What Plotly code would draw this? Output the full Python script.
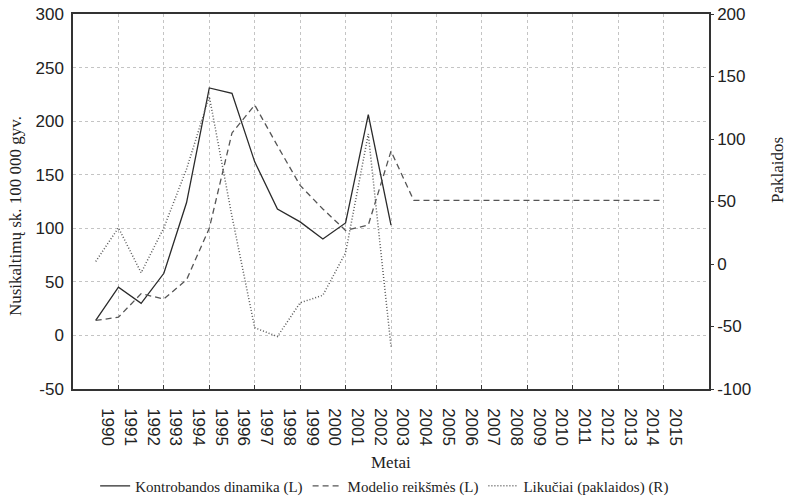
import plotly.graph_objects as go

# data
years = list(range(1990, 2016))
obs_years = list(range(1990, 2004))
contraband = [14, 45, 30, 58, 124, 231, 226, 162, 118, 106, 90, 105, 206, 103]
model = [14, 17, 39, 34, 52, 100, 189, 215, 177, 140, 118, 98, 103, 172,
         126, 126, 126, 126, 126, 126, 126, 126, 126, 126, 126, 126]
residuals = [2, 29, -7, 29, 76, 134, 38, -51, -58, -31, -25, 9, 104, -66]
left_ticks = [-50, 0, 50, 100, 150, 200, 250, 300]
right_ticks = [-100, -50, 0, 50, 100, 150, 200]

serif = "Liberation Serif"
sans = "Liberation Sans"

fig = go.Figure()
fig.add_trace(go.Scatter(x=obs_years, y=contraband, mode="lines",
                         name="Kontrobandos dinamika (L)",
                         line=dict(color="#2a2a2a", width=1.3)))
fig.add_trace(go.Scatter(x=years, y=model, mode="lines",
                         name="Modelio reikšmės (L)",
                         line=dict(color="#555555", width=1.3, dash="6px,4px")))
fig.add_trace(go.Scatter(x=obs_years, y=residuals, mode="lines",
                         name="Likučiai (paklaidos) (R)", xaxis="x2", yaxis="y2",
                         line=dict(color="#5a5a5a", width=1.5, dash="1px,2px")))

fig.update_layout(
    width=788, height=496,
    margin=dict(l=73, r=79, t=14, b=107),
    paper_bgcolor="white", plot_bgcolor="white",
    showlegend=True,
    legend=dict(orientation="h", x=0.49, xanchor="center",
                yref="container", y=0.02, yanchor="middle",
                font=dict(family=serif, size=15, color="#222"),
                itemwidth=30, tracegroupgap=0),
    # year labels
    xaxis=dict(range=[1989, 2017], tickvals=years, ticktext=[str(y) for y in years],
               tickangle=90, ticklabelshift=12, ticklabelstandoff=14,
               showgrid=False, zeroline=False, ticks="", automargin=False,
               showline=True, linecolor="#333", linewidth=1.5, mirror=True,
               tickfont=dict(family=sans, size=17, color="#222")),
    # grid and tick marks every second year
    xaxis2=dict(range=[1989, 2017], overlaying="x", anchor="y2", side="bottom",
                tick0=1991, dtick=2, showticklabels=False, automargin=False,
                ticks="inside", ticklen=4, tickcolor="#333",
                showgrid=True, gridcolor="#c4c4c4", griddash="dot", gridwidth=1,
                zeroline=False),
    yaxis=dict(range=[-50, 300], tickvals=left_ticks,
               ticktext=[str(v) for v in left_ticks],
               showgrid=True, gridcolor="#c4c4c4",
               griddash="dot", gridwidth=1, zeroline=False, ticks="",
               showline=True, linecolor="#333", linewidth=1.5, mirror=True,
               ticklabelstandoff=4, automargin=False,
               tickfont=dict(family=sans, size=17, color="#222")),
    yaxis2=dict(range=[-100, 200], tickvals=right_ticks,
                ticktext=[str(v) for v in right_ticks],
                overlaying="y", side="right",
                showgrid=False, zeroline=False, ticks="outside", ticklen=3,
                tickcolor="#333", showline=True, linecolor="#333", linewidth=1.5,
                automargin=False,
                tickfont=dict(family=sans, size=17, color="#222")),
    annotations=[
        dict(text="Metai", xref="paper", yref="paper", x=0.5, y=-0.195,
             showarrow=False, xanchor="center", yanchor="middle",
             font=dict(family=serif, size=17, color="#222")),
        dict(text="Nusikaltimų sk. 100 000 gyv.", xref="paper", yref="paper",
             x=-0.0912, y=0.461, textangle=-90, showarrow=False,
             xanchor="center", yanchor="middle",
             font=dict(family=serif, size=17, color="#222")),
        dict(text="Paklaidos", xref="paper", yref="paper",
             x=1.107, y=0.584, textangle=-90, showarrow=False,
             xanchor="center", yanchor="middle",
             font=dict(family=serif, size=17, color="#222")),
    ],
)

# drop the browser's default page margin so the figure fills the window
fig.write_html("out.html", config={"displayModeBar": False},
               post_script="document.body.style.margin = '0';")
